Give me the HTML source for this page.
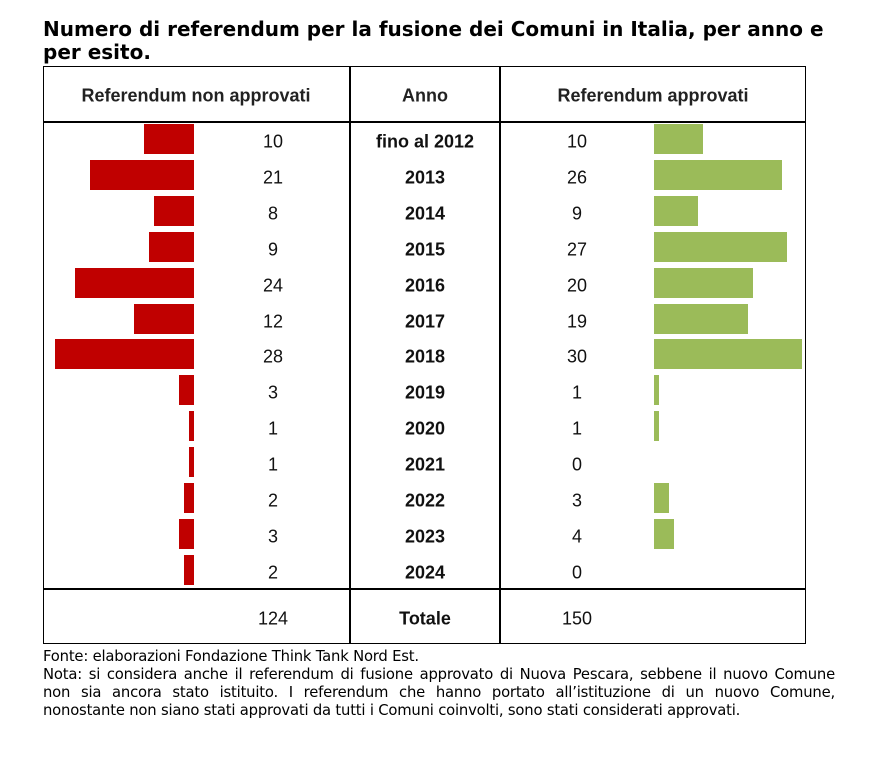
<!DOCTYPE html>
<html><head><meta charset="utf-8"><style>
body{margin:0;background:#fff;width:884px;height:757px;position:relative;overflow:hidden;font-family:"Liberation Sans",sans-serif}
.t{position:absolute;left:43px;top:18px;width:796px;font-family:"DejaVu Sans",sans-serif;font-weight:bold;font-size:20px;line-height:23px;color:#000}
.ln{position:absolute;background:#000}
.c{position:absolute;text-align:center;font-size:18px;color:#111;transform:translateY(-50%)}
.b{font-weight:bold}
.r{position:absolute;background:#c00000;height:30px}
.g{position:absolute;background:#9bbb59;height:30px}
.f{position:absolute;left:43px;top:648px;width:792px;font-family:"DejaVu Sans",sans-serif;font-size:14.8px;letter-spacing:-0.2px;line-height:18px;color:#000;white-space:nowrap}
.f div.j{text-align:justify;text-align-last:justify}
</style></head><body>
<div class="t">Numero di referendum per la fusione dei Comuni in Italia, per anno e per esito.</div>
<div class="ln" style="left:43px;top:66px;width:763px;height:1px"></div>
<div class="ln" style="left:43px;top:121px;width:763px;height:2px"></div>
<div class="ln" style="left:43px;top:588px;width:763px;height:2px"></div>
<div class="ln" style="left:43px;top:643px;width:763px;height:1px"></div>
<div class="ln" style="left:43px;top:66px;width:1px;height:578px"></div>
<div class="ln" style="left:805px;top:66px;width:1px;height:578px"></div>
<div class="ln" style="left:349px;top:66px;width:2px;height:578px"></div>
<div class="ln" style="left:499px;top:66px;width:2px;height:578px"></div>
<div class="c b" style="left:43px;width:306px;top:96px;color:#222">Referendum non approvati</div>
<div class="c b" style="left:351px;width:148px;top:96px;color:#222">Anno</div>
<div class="c b" style="left:501px;width:304px;top:96px;color:#222">Referendum approvati</div>
<div id="rows"></div>
<div class="c" style="left:233px;width:80px;top:619px">124</div>
<div class="c b" style="left:351px;width:148px;top:619px">Totale</div>
<div class="c" style="left:537px;width:80px;top:619px">150</div>
<div class="f"><div>Fonte: elaborazioni Fondazione Think Tank Nord Est.</div>
<div class="j">Nota: si considera anche il referendum di fusione approvato di Nuova Pescara, sebbene il nuovo Comune</div>
<div class="j">non sia ancora stato istituito. I referendum che hanno portato all’istituzione di un nuovo Comune,</div>
<div>nonostante non siano stati approvati da tutti i Comuni coinvolti, sono stati considerati approvati.</div></div>
<script>
var d=[["fino al 2012",10,10],["2013",21,26],["2014",8,9],["2015",9,27],["2016",24,20],["2017",12,19],["2018",28,30],["2019",3,1],["2020",1,1],["2021",1,0],["2022",2,3],["2023",3,4],["2024",2,0]];
var h="";
d.forEach(function(r,i){var cy=141+i*35.9;
var w1=r[1]*4.96,w2=r[2]*4.93;
h+='<div class="r" style="left:'+(194-w1)+'px;width:'+w1+'px;top:'+(cy-17)+'px"></div>';
if(w2>0)h+='<div class="g" style="left:654px;width:'+w2+'px;top:'+(cy-17)+'px"></div>';
h+='<div class="c" style="left:233px;width:80px;top:'+(cy+1)+'px">'+r[1]+'</div>';
h+='<div class="c b" style="left:351px;width:148px;top:'+(cy+1)+'px">'+r[0]+'</div>';
h+='<div class="c" style="left:537px;width:80px;top:'+(cy+1)+'px">'+r[2]+'</div>';});
document.getElementById("rows").innerHTML=h;
</script>
</body></html>
